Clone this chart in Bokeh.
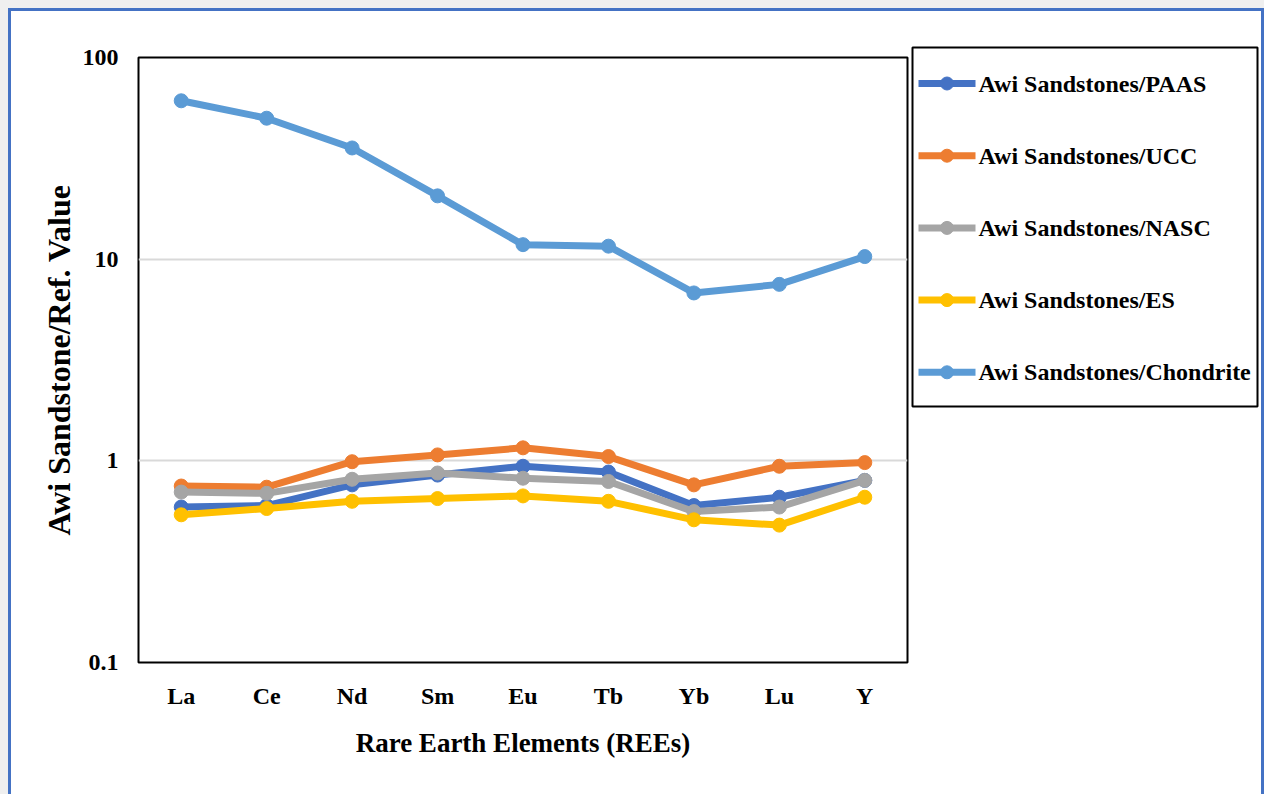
from bokeh.plotting import figure
from bokeh.layouts import row, column
from bokeh.models import ColumnDataSource, FixedTicker, Range1d
from bokeh.core.properties import value
from bokeh.embed import file_html
from bokeh.resources import INLINE

# Rare earth elements on the x axis
elements = ["La", "Ce", "Nd", "Sm", "Eu", "Tb", "Yb", "Lu", "Y"]

# Sandstone REE contents normalised to each reference composition
paas = [0.59, 0.60, 0.76, 0.85, 0.94, 0.88, 0.60, 0.66, 0.80]
ucc = [0.75, 0.74, 0.99, 1.07, 1.16, 1.05, 0.76, 0.94, 0.98]
nasc = [0.70, 0.69, 0.81, 0.87, 0.82, 0.79, 0.56, 0.59, 0.80]
es = [0.54, 0.58, 0.63, 0.65, 0.67, 0.63, 0.51, 0.48, 0.66]
chondrite = [61.0, 50.0, 35.6, 20.6, 11.8, 11.6, 6.8, 7.5, 10.3]

series_names = ["Awi Sandstones/PAAS", "Awi Sandstones/UCC", "Awi Sandstones/NASC",
                "Awi Sandstones/ES", "Awi Sandstones/Chondrite"]
series_values = [paas, ucc, nasc, es, chondrite]
series_colors = ["#4472C4", "#ED7D31", "#A5A5A5", "#FFC000", "#5B9BD5"]

y_ticks = [0.1, 1, 10, 100]
y_tick_labels = ["0.1", "1", "10", "100"]

FONT = "Liberation Serif"
PANEL_H = 783

# ---------------- main chart ----------------
p = figure(x_range=elements, y_axis_type="log", y_range=Range1d(0.1, 100),
           width=899, height=PANEL_H, output_backend="svg", toolbar_location=None,
           min_border_left=127, min_border_right=3, min_border_top=46,
           min_border_bottom=132, background_fill_color="white",
           border_fill_color="white")

p.outline_line_color = "black"
p.outline_line_width = 2
p.xgrid.grid_line_color = None
p.ygrid.grid_line_color = "#d9d9d9"
p.ygrid.grid_line_width = 2

p.yaxis.ticker = FixedTicker(ticks=y_ticks, minor_ticks=[])
p.yaxis.major_label_overrides = dict(zip(y_ticks, y_tick_labels))
p.yaxis.axis_label = "Awi Sandstone/Ref. Value"
p.yaxis.axis_label_standoff = 3
p.yaxis.major_label_standoff = 20

p.xaxis.axis_label = "Rare Earth Elements (REEs)"
p.xaxis.major_label_standoff = 20
p.xaxis.axis_label_standoff = 16

for ax in (p.xaxis[0], p.yaxis[0]):
    ax.axis_line_color = None
    ax.major_tick_line_color = None
    ax.minor_tick_line_color = None
    ax.major_tick_out = 0
    ax.major_tick_in = 0
    ax.minor_tick_out = 0
    ax.minor_tick_in = 0
    ax.major_label_text_font = FONT
    ax.major_label_text_font_style = "bold"
    ax.major_label_text_font_size = "24px"
    ax.major_label_text_color = "black"
    ax.axis_label_text_font = FONT
    ax.axis_label_text_font_style = "bold"
    ax.axis_label_text_color = "black"

p.xaxis.axis_label_text_font_size = "27px"
p.yaxis.axis_label_text_font_size = "32px"

for name, vals, color in zip(series_names, series_values, series_colors):
    src = ColumnDataSource(dict(x=elements, y=vals))
    p.line("x", "y", source=src, line_color=color, line_width=7)
    p.scatter("x", "y", source=src, size=14, fill_color=color, line_color=color)

# ---------------- legend panel ----------------
LEG_W = 351
leg = figure(width=LEG_W, height=PANEL_H, output_backend="svg", toolbar_location=None,
             x_range=Range1d(0, LEG_W), y_range=Range1d(PANEL_H, 0),
             x_axis_location=None, y_axis_location=None,
             min_border=0, outline_line_color=None,
             background_fill_color="white", border_fill_color="white")
leg.xgrid.grid_line_color = None
leg.ygrid.grid_line_color = None

box_left, box_right, box_top, box_bottom = 2, 347, 36, 395
leg.quad(left=[box_left], right=[box_right], top=[box_top], bottom=[box_bottom],
         fill_color=None, line_color="black", line_width=2)

first_row, row_step = 72, 72.2
sw_x0, sw_x1, text_x = 8, 65, 68
rows_y = [first_row + i * row_step for i in range(len(series_names))]
leg_src = ColumnDataSource(dict(y=rows_y, name=series_names, color=series_colors))
leg.segment(x0=sw_x0, x1=sw_x1, y0="y", y1="y", source=leg_src,
            line_color="color", line_width=7)
leg.scatter(x=(sw_x0 + sw_x1) / 2, y="y", source=leg_src, size=13,
            fill_color="color", line_color="color")
leg.text(x=text_x, y="y", text="name", source=leg_src,
         text_font=value(FONT), text_font_style="bold", text_font_size="24px",
         text_color="black", text_baseline="middle", text_align="left")

# page: grey margin, blue frame, white sheet
sheet = row(p, column(leg), styles={"border-left": "3px solid #4472C4",
                                    "border-top": "3px solid #4472C4",
                                    "border-right": "3px solid #4472C4",
                                    "background-color": "white"})
page = column(sheet, styles={"background-color": "#efefef",
                             "padding-left": "8px", "padding-top": "8px"})

open("out.html", "w").write(file_html(page, INLINE))
